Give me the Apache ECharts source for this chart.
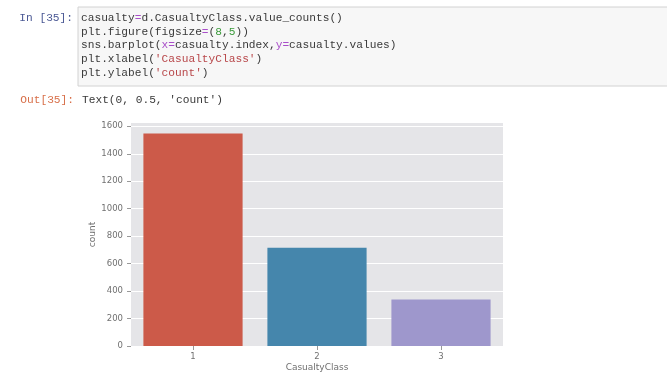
<!DOCTYPE html>
<html>
<head>
<meta charset="utf-8">
<script src="https://cdn.jsdelivr.net/npm/echarts@6/dist/echarts.min.js"></script>
<style>
  html, body { margin: 0; padding: 0; background: #fff; }
  #chart { width: 667px; height: 373px; }
</style>
</head>
<body>
<div id="chart"></div>
<script>
// data
var categories = ["1", "2", "3"];
var counts = [1547, 716, 338];
var barColors = ["#CC5A49", "#4586AC", "#9E97CC"];
var yTicks = [0, 200, 400, 600, 800, 1000, 1200, 1400, 1600];

// notebook text around the plot
var promptIn = "In [35]:";
var promptOut = "Out[35]:";
var codeLines = [
  "casualty{o|=}d.CasualtyClass.value_counts()",
  "plt.figure(figsize{o|=}({n|8},{n|5}))",
  "sns.barplot({o|x=}casualty.index,{o|y=}casualty.values)",
  "plt.xlabel({s|'CasualtyClass'})",
  "plt.ylabel({s|'count'})"
];
var outText = "Text(0, 0.5, 'count')";

var mono = "'Liberation Mono', 'DejaVu Sans Mono', monospace";
var codeFont = "11.2px " + mono;
var gray = "#707070";

var myChart = echarts.init(document.getElementById("chart"));

var graphics = [
  {
    type: "rect",
    shape: { x: 78, y: 7, width: 600, height: 79 },
    style: { fill: "#F7F7F7", stroke: "#D2D2D2", lineWidth: 1 },
    z: 0
  },
  {
    type: "text",
    x: 73, y: 18,
    style: { text: promptIn, font: codeFont, fill: "#4A5894", align: "right", verticalAlign: "middle" }
  },
  {
    type: "text",
    x: 74, y: 100,
    style: { text: promptOut, font: codeFont, fill: "#D8704A", align: "right", verticalAlign: "middle" }
  },
  {
    type: "text",
    x: 82, y: 100,
    style: { text: outText, font: codeFont, fill: "#3A3A3A", verticalAlign: "middle" }
  }
];

codeLines.forEach(function (line, i) {
  graphics.push({
    type: "text",
    x: 81, y: 18 + i * 13.7,
    z: 2,
    style: {
      text: line,
      font: codeFont,
      fill: "#3A3A3A",
      verticalAlign: "middle",
      rich: {
        o: { fill: "#A94FC9", font: codeFont },
        n: { fill: "#3A9A3A", font: codeFont },
        s: { fill: "#B8474A", font: codeFont }
      }
    }
  });
});

var option = {
  animation: false,
  backgroundColor: "#fff",
  textStyle: { fontFamily: "DejaVu Sans" },
  graphic: graphics,
  grid: {
    left: 131,
    right: 164,
    top: 123,
    bottom: 27,
    outerBoundsMode: "none",
    containLabel: false,
    show: true,
    backgroundColor: "#E5E5E8",
    borderWidth: 0
  },
  xAxis: {
    type: "category",
    data: categories,
    name: "CasualtyClass",
    nameLocation: "middle",
    nameGap: 17.5,
    nameMoveOverlap: false,
    nameTextStyle: { color: gray, fontSize: 9 },
    axisLine: { show: false },
    axisTick: { show: true, alignWithLabel: true, length: 4, lineStyle: { color: "#999" } },
    axisLabel: { color: gray, fontSize: 8.5, margin: 6 },
    splitLine: { show: false }
  },
  yAxis: {
    type: "value",
    min: 0,
    max: 1624,
    interval: 200,
    name: "count",
    nameLocation: "middle",
    nameGap: 34,
    nameMoveOverlap: false,
    nameTextStyle: { color: gray, fontSize: 9 },
    axisLine: { show: false },
    axisTick: { show: true, length: 4, lineStyle: { color: "#999" }, customValues: yTicks },
    axisLabel: {
      color: gray,
      fontSize: 8.5,
      margin: 8,
      customValues: yTicks,
      formatter: function (v) { return String(v); }
    },
    splitLine: { show: true, lineStyle: { color: "#FFFFFF", width: 1 } }
  },
  series: [
    {
      type: "bar",
      barCategoryGap: "20%",
      data: counts.map(function (v, i) {
        return { value: v, itemStyle: { color: barColors[i] } };
      })
    }
  ]
};

myChart.setOption(option);
</script>
</body>
</html>
